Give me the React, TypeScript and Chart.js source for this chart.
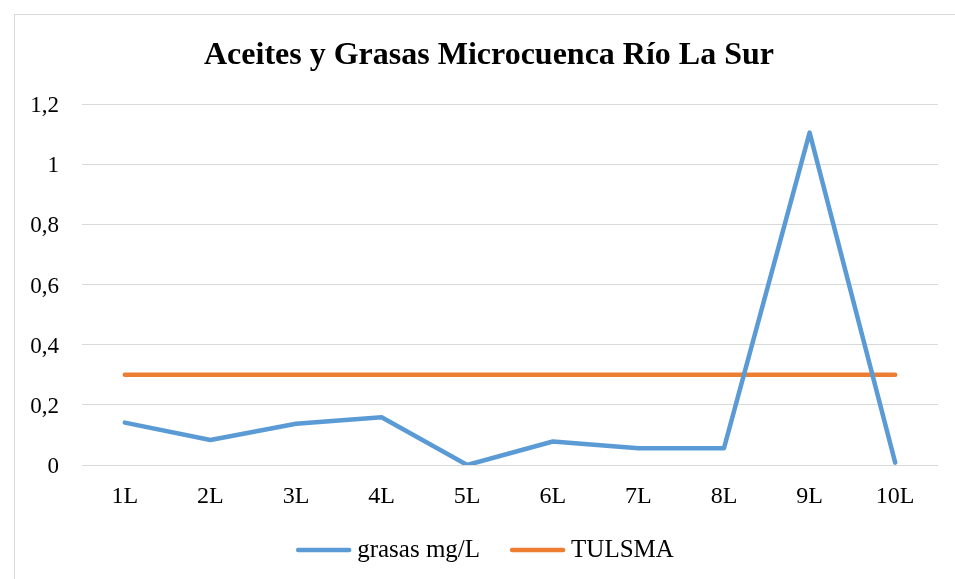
import React, { useEffect, useRef } from "react";
import { Chart, registerables } from "chart.js";

Chart.register(...registerables);

const categories = ["1L", "2L", "3L", "4L", "5L", "6L", "7L", "8L", "9L", "10L"];
const grasas = [0.141, 0.083, 0.137, 0.159, 0.0, 0.078, 0.056, 0.056, 1.105, 0.008];
const tulsma = [0.3, 0.3, 0.3, 0.3, 0.3, 0.3, 0.3, 0.3, 0.3, 0.3];
const yTicks = [0, 0.2, 0.4, 0.6, 0.8, 1, 1.2];
const titleText = "Aceites y Grasas Microcuenca Río La Sur";

const FONT = "'Liberation Serif', 'Times New Roman', serif";
// the chart object is wider than the visible canvas; its centre sits here
const OBJECT_CENTER_X = 489;

// white background plus the thin frame around the chart object
const framePlugin = {
  id: "frame",
  beforeDraw(chart: any) {
    const ctx = chart.ctx;
    ctx.save();
    ctx.fillStyle = "#ffffff";
    ctx.fillRect(0, 0, chart.width, chart.height);
    ctx.strokeStyle = "#d9d9d9";
    ctx.lineWidth = 1;
    ctx.strokeRect(14.5, 14.5, chart.width + 20, chart.height + 20);
    ctx.restore();
  },
};

// bold heading centred on the chart object
const headingPlugin = {
  id: "heading",
  afterDraw(chart: any) {
    const ctx = chart.ctx;
    ctx.save();
    ctx.font = `bold 32px ${FONT}`;
    ctx.fillStyle = "#000000";
    ctx.textAlign = "center";
    ctx.textBaseline = "middle";
    ctx.fillText(titleText, OBJECT_CENTER_X, chart.chartArea.top - 48);
    ctx.restore();
  },
};

// legend row under the axis: line sample followed by the series name
const lineLegendPlugin = {
  id: "lineLegend",
  afterDraw(chart: any) {
    const ctx = chart.ctx;
    const sample = 55;
    const textGap = 6;
    const itemGap = 30;
    const y = chart.chartArea.bottom + 85;
    ctx.save();
    ctx.font = `25px ${FONT}`;
    const items = chart.data.datasets.map((ds: any) => ({
      label: ds.label as string,
      color: ds.borderColor as string,
      w: ctx.measureText(ds.label).width,
    }));
    const total =
      items.reduce((s: number, it: any) => s + sample + textGap + it.w, 0) +
      itemGap * (items.length - 1);
    let x = OBJECT_CENTER_X - 4 - total / 2;
    for (const it of items) {
      ctx.strokeStyle = it.color;
      ctx.lineWidth = 4.5;
      ctx.lineCap = "round";
      ctx.beginPath();
      ctx.moveTo(x + 2, y);
      ctx.lineTo(x + sample - 2, y);
      ctx.stroke();
      ctx.fillStyle = "#000000";
      ctx.textBaseline = "middle";
      ctx.textAlign = "left";
      ctx.fillText(it.label, x + sample + textGap, y);
      x += sample + textGap + it.w + itemGap;
    }
    ctx.restore();
  },
};

export default function App() {
  const ref = useRef<HTMLCanvasElement | null>(null);

  useEffect(() => {
    if (!ref.current) return;
    const chart = new Chart(ref.current, {
      type: "line",
      data: {
        labels: categories,
        datasets: [
          {
            label: "grasas mg/L",
            data: grasas,
            borderColor: "#5B9BD5",
            backgroundColor: "#5B9BD5",
            borderWidth: 4.5,
            pointRadius: 0,
            tension: 0,
            borderCapStyle: "round",
            borderJoinStyle: "round",
          },
          {
            label: "TULSMA",
            data: tulsma,
            borderColor: "#ED7D31",
            backgroundColor: "#ED7D31",
            borderWidth: 4.5,
            pointRadius: 0,
            tension: 0,
            borderCapStyle: "round",
          },
        ],
      },
      options: {
        animation: false,
        responsive: false,
        layout: { padding: { left: 14, right: 17, top: 104, bottom: 68 } },
        plugins: {
          title: { display: false },
          legend: { display: false },
          tooltip: { enabled: false },
        },
        scales: {
          x: {
            offset: true,
            grid: { display: false, drawTicks: false },
            border: { display: false },
            afterFit(axis: any) {
              axis.height = 46;
            },
            ticks: {
              color: "#000000",
              font: { family: FONT, size: 24 },
              padding: 17,
            },
          },
          y: {
            min: 0,
            max: 1.2,
            afterBuildTicks(axis: any) {
              axis.ticks = yTicks.map((v) => ({ value: v }));
            },
            afterFit(axis: any) {
              axis.width = 68;
            },
            grid: { color: "#d9d9d9", lineWidth: 1, drawTicks: false },
            border: { display: false },
            ticks: {
              color: "#000000",
              font: { family: FONT, size: 23 },
              padding: 23,
              labelOffset: 2,
              callback: (v: any) => String(v).replace(".", ","),
            },
          },
        },
      },
      plugins: [framePlugin, headingPlugin, lineLegendPlugin],
    });
    return () => chart.destroy();
  }, []);

  return (
    <div style={{ position: "fixed", left: 0, top: 0, width: 955, height: 579 }}>
      <canvas ref={ref} width={955} height={579} />
    </div>
  );
}
